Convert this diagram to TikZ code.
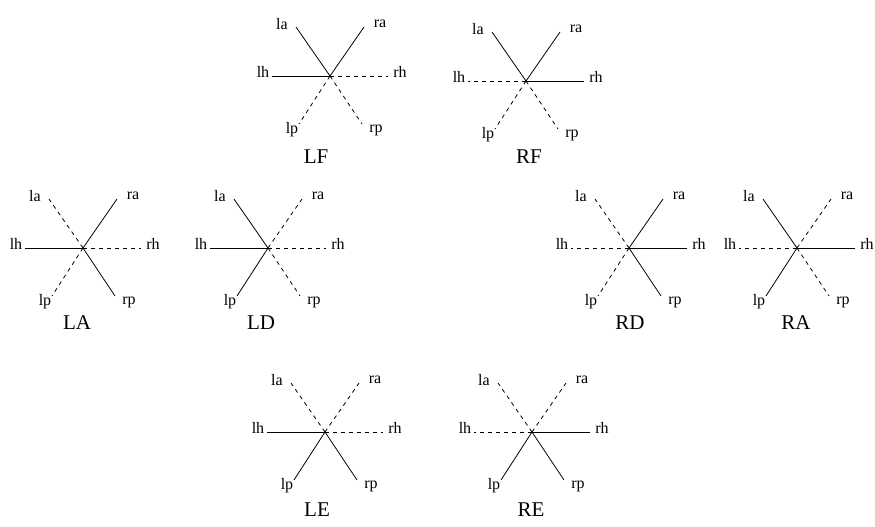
\documentclass[tikz,border=0pt]{standalone}
\usepackage{fontspec}
\setmainfont{Liberation Serif}
\usetikzlibrary{calc}

\begin{document}
\begin{tikzpicture}[
    x=1pt, y=-1pt,
    leg/.style={line width=0.8pt},
    leg s/.style={leg},
    leg d/.style={leg, dash pattern=on 4pt off 4pt},
    limb/.style={inner sep=0pt, font=\fontsize{16}{18}\selectfont},
    gait/.style={inner sep=0pt, font=\fontsize{21}{24}\selectfont}
]
    \useasboundingbox (0,0) rectangle (875,527);

    % Gaits: name/centre x/centre y/label x/label y/la/ra/lh/rh/lp/rp
    \foreach \n/\cx/\cy/\lx/\ly/\la/\ra/\lh/\rh/\lp/\rp in {
        LF/330/76/316/157/s/s/s/d/d/d,
        RF/526/81/529/157/s/s/d/s/d/d,
        LA/83/248/77/323/d/s/s/d/d/s,
        LD/268/248/261/323/s/d/s/d/s/d,
        RD/629/248/630/323/d/s/d/s/d/s,
        RA/797/248/796/323/s/d/d/s/s/d,
        LE/325/432/317/510/d/d/s/d/s/s,
        RE/532/432/531/510/d/d/d/s/s/s}
    {
        % Centre and leg ends
        \coordinate (\n) at (\cx,\cy);
        \coordinate (\n-la) at ($(\n)+(-34,-49)$);
        \coordinate (\n-ra) at ($(\n)+(34,-49)$);
        \coordinate (\n-lh) at ($(\n)+(-58,0)$);
        \coordinate (\n-rh) at ($(\n)+(58,0)$);
        \coordinate (\n-lp) at ($(\n)+(-31,48)$);
        \coordinate (\n-rp) at ($(\n)+(32,48)$);

        % Leg labels
        \node[limb] (\n-tla) at ($(\n)+(-48,-52)$) {la};
        \node[limb] (\n-tra) at ($(\n)+(50,-52)$) {ra};
        \node[limb] (\n-tlh) at ($(\n)+(-67,-4)$) {lh};
        \node[limb] (\n-trh) at ($(\n)+(70,-4)$) {rh};
        \node[limb] (\n-tlp) at ($(\n)+(-38,54)$) {lp};
        \node[limb] (\n-trp) at ($(\n)+(46,54)$) {rp};
        \node[gait] (\n-name) at (\lx,\ly) {\n};

        % Legs
        \draw[leg \la] (\n) -- (\n-la);
        \draw[leg \ra] (\n) -- (\n-ra);
        \draw[leg \lh] (\n) -- (\n-lh);
        \draw[leg \rh] (\n) -- (\n-rh);
        \draw[leg \lp] (\n) -- (\n-lp);
        \draw[leg \rp] (\n) -- (\n-rp);
    }
\end{tikzpicture}
\end{document}
